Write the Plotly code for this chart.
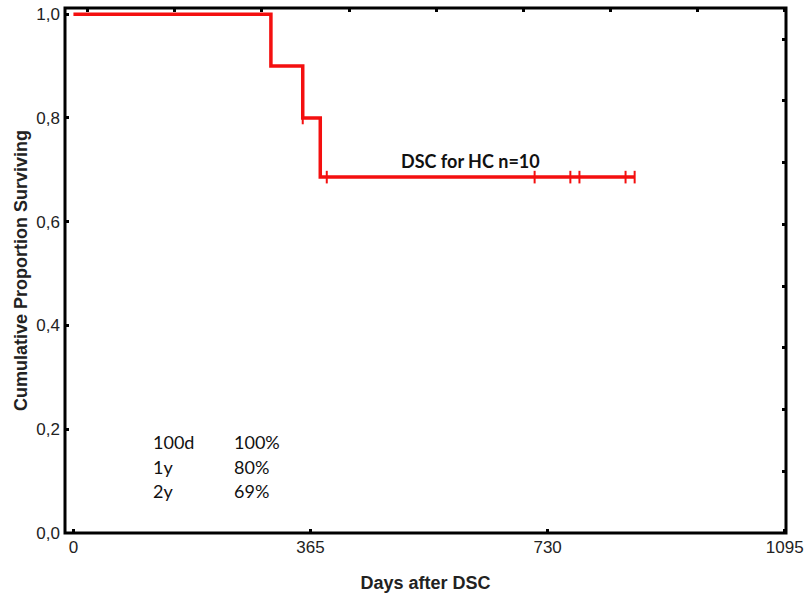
import plotly.graph_objects as go

# Kaplan-Meier estimate
event_days = [0, 304, 353, 380]
survival = [1.0, 0.9, 0.8, 0.686]
last_followup = 864

censor_days = [353, 390, 710, 765, 779, 850, 864]
censor_surv = [0.8, 0.686, 0.686, 0.686, 0.686, 0.686, 0.686]

x_ticks = [0, 365, 730, 1095]
y_ticks = [0.0, 0.2, 0.4, 0.6, 0.8, 1.0]
# unlabeled ticks on the top and right frame
top_ticks = [22, 156, 290, 425, 559, 693, 827, 961, 1095]
right_ticks = [0.0, 0.119, 0.238, 0.357, 0.476, 0.595, 0.714, 0.833, 0.952]

summary_labels = ["100d", "1y", "2y"]
summary_values = ["100%", "80%", "69%"]
summary_y = [0.175, 0.127, 0.081]

RED = "#f40f0f"
X_RANGE = [-13, 1097]
Y_RANGE = [0, 1.012]
TEXT_FONT = "Lato, Open Sans, sans-serif"

fig = go.Figure()

fig.add_trace(
    go.Scatter(
        x=event_days + [last_followup],
        y=survival + [survival[-1]],
        mode="lines",
        line=dict(color=RED, width=3.5, shape="hv"),
        showlegend=False,
    )
)

fig.add_trace(
    go.Scatter(
        x=censor_days,
        y=censor_surv,
        mode="markers",
        marker=dict(symbol="line-ns", size=9, line=dict(color=RED, width=2)),
        showlegend=False,
    )
)

# dummy trace so the overlay axes (top / right frame) are drawn
fig.add_trace(
    go.Scatter(x=[None], y=[None], xaxis="x2", yaxis="y2", showlegend=False)
)

fig.add_annotation(
    x=611, y=0.717, text="<b>DSC for HC n=10</b>", showarrow=False,
    font=dict(family=TEXT_FONT, size=18, color="#111"),
)
for lab, val, yy in zip(summary_labels, summary_values, summary_y):
    fig.add_annotation(
        x=120, y=yy, text=lab, showarrow=False, xanchor="left",
        font=dict(family=TEXT_FONT, size=18, color="#111"),
    )
    fig.add_annotation(
        x=244, y=yy, text=val, showarrow=False, xanchor="left",
        font=dict(family=TEXT_FONT, size=18, color="#111"),
    )

# black frame round the plot area
fig.add_shape(
    type="rect", xref="paper", yref="paper", x0=0, x1=1, y0=0, y1=1,
    line=dict(color="black", width=3), layer="above",
)

axis_common = dict(
    showgrid=False,
    zeroline=False,
    showline=False,
    ticks="inside",
    ticklen=4,
    tickwidth=2.5,
    tickcolor="black",
    ticklabeloverflow="allow",
)

fig.update_layout(
    width=807,
    height=601,
    margin=dict(l=65, r=21, t=8, b=68),
    paper_bgcolor="white",
    plot_bgcolor="white",
    separators=",.",
    font=dict(family="Liberation Sans, Arial, sans-serif", size=17, color="#222"),
    xaxis=dict(
        range=X_RANGE,
        tickvals=x_ticks,
        ticklabelstandoff=2,
        automargin=False,
        title=dict(
            text="<b>Days after DSC</b>",
            font=dict(size=18, color="#222"),
            standoff=20,
        ),
        **axis_common,
    ),
    yaxis=dict(
        range=Y_RANGE,
        tickvals=y_ticks,
        tickformat=".1f",
        ticklabelstandoff=4,
        automargin=False,
        title=dict(
            text="<b>Cumulative Proportion Surviving</b>",
            font=dict(size=18, color="#222"),
            standoff=4,
        ),
        **axis_common,
    ),
    xaxis2=dict(
        range=X_RANGE,
        overlaying="x",
        side="top",
        tickvals=top_ticks,
        showticklabels=False,
        **axis_common,
    ),
    yaxis2=dict(
        range=Y_RANGE,
        overlaying="y",
        side="right",
        tickvals=right_ticks,
        showticklabels=False,
        **axis_common,
    ),
)

# drop the default page margin so the figure sits at the window's corner
fig.write_html(
    "out.html",
    config={"displayModeBar": False},
    post_script="document.body.style.margin='0';document.body.style.overflow='hidden';",
)
